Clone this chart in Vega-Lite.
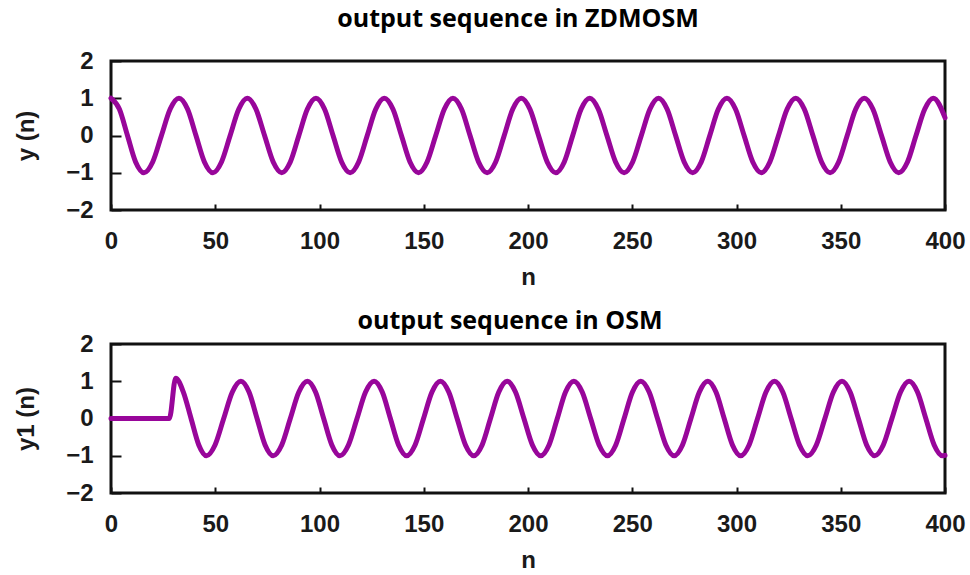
{
  "$schema": "https://vega.github.io/schema/vega-lite/v6.json",
  "background": "white",
  "padding": {"left": 13, "top": 5, "right": 20, "bottom": 2},
  "spacing": 16,
  "datasets": {
    "zdmosm": [
      {"n": 0, "y": 1}, {"n": 4.0, "y": 0.71}, {"n": 7.9, "y": 0}, {"n": 11.8, "y": -0.71}, {"n": 15.8, "y": -1},
      {"n": 20.0, "y": -0.71}, {"n": 24.2, "y": 0}, {"n": 28.4, "y": 0.71}, {"n": 32.6, "y": 1},
      {"n": 36.7, "y": 0.71}, {"n": 40.75, "y": 0}, {"n": 44.8, "y": -0.71}, {"n": 48.9, "y": -1},
      {"n": 53.0, "y": -0.71}, {"n": 57.15, "y": 0}, {"n": 61.3, "y": 0.71}, {"n": 65.4, "y": 1},
      {"n": 69.5, "y": 0.71}, {"n": 73.65, "y": 0}, {"n": 77.8, "y": -0.71}, {"n": 81.9, "y": -1},
      {"n": 86.0, "y": -0.71}, {"n": 90.1, "y": 0}, {"n": 94.2, "y": 0.71}, {"n": 98.3, "y": 1},
      {"n": 102.4, "y": 0.71}, {"n": 106.5, "y": 0}, {"n": 110.6, "y": -0.71}, {"n": 114.7, "y": -1},
      {"n": 118.8, "y": -0.71}, {"n": 122.9, "y": 0}, {"n": 127.0, "y": 0.71}, {"n": 131.1, "y": 1},
      {"n": 135.2, "y": 0.71}, {"n": 139.3, "y": 0}, {"n": 143.4, "y": -0.71}, {"n": 147.5, "y": -1},
      {"n": 151.6, "y": -0.71}, {"n": 155.75, "y": 0}, {"n": 159.9, "y": 0.71}, {"n": 164.0, "y": 1},
      {"n": 168.1, "y": 0.71}, {"n": 172.2, "y": 0}, {"n": 176.3, "y": -0.71}, {"n": 180.4, "y": -1},
      {"n": 184.5, "y": -0.71}, {"n": 188.6, "y": 0}, {"n": 192.7, "y": 0.71}, {"n": 196.8, "y": 1},
      {"n": 200.9, "y": 0.71}, {"n": 205.05, "y": 0}, {"n": 209.2, "y": -0.71}, {"n": 213.3, "y": -1},
      {"n": 217.4, "y": -0.71}, {"n": 221.45, "y": 0}, {"n": 225.5, "y": 0.71}, {"n": 229.6, "y": 1},
      {"n": 233.7, "y": 0.71}, {"n": 237.85, "y": 0}, {"n": 242.0, "y": -0.71}, {"n": 246.1, "y": -1},
      {"n": 250.2, "y": -0.71}, {"n": 254.35, "y": 0}, {"n": 258.5, "y": 0.71}, {"n": 262.6, "y": 1},
      {"n": 266.7, "y": 0.71}, {"n": 270.8, "y": 0}, {"n": 274.9, "y": -0.71}, {"n": 279.0, "y": -1},
      {"n": 283.1, "y": -0.71}, {"n": 287.2, "y": 0}, {"n": 291.3, "y": 0.71}, {"n": 295.4, "y": 1},
      {"n": 299.5, "y": 0.71}, {"n": 303.65, "y": 0}, {"n": 307.8, "y": -0.71}, {"n": 311.9, "y": -1},
      {"n": 316.0, "y": -0.71}, {"n": 320.15, "y": 0}, {"n": 324.3, "y": 0.71}, {"n": 328.4, "y": 1},
      {"n": 332.5, "y": 0.71}, {"n": 336.65, "y": 0}, {"n": 340.8, "y": -0.71}, {"n": 344.9, "y": -1},
      {"n": 349.0, "y": -0.71}, {"n": 353.1, "y": 0}, {"n": 357.2, "y": 0.71}, {"n": 361.3, "y": 1},
      {"n": 365.4, "y": 0.71}, {"n": 369.55, "y": 0}, {"n": 373.7, "y": -0.71}, {"n": 377.8, "y": -1},
      {"n": 382.0, "y": -0.71}, {"n": 386.1, "y": 0}, {"n": 390.3, "y": 0.71}, {"n": 394.4, "y": 1},
      {"n": 400, "y": 0.48}
    ],
    "osm": [
      {"n": 0, "y": 0}, {"n": 28, "y": 0}, {"n": 31, "y": 1.08},
      {"n": 34.7, "y": 0.71}, {"n": 38.4, "y": 0}, {"n": 42.1, "y": -0.71}, {"n": 45.8, "y": -1},
      {"n": 49.9, "y": -0.71}, {"n": 54.05, "y": 0}, {"n": 58.2, "y": 0.71}, {"n": 62.3, "y": 1},
      {"n": 66.2, "y": 0.71}, {"n": 70.05, "y": 0}, {"n": 73.9, "y": -0.71}, {"n": 77.8, "y": -1},
      {"n": 81.9, "y": -0.71}, {"n": 86.0, "y": 0}, {"n": 90.1, "y": 0.71}, {"n": 94.2, "y": 1},
      {"n": 98.1, "y": 0.71}, {"n": 102.0, "y": 0}, {"n": 105.9, "y": -0.71}, {"n": 109.8, "y": -1},
      {"n": 113.9, "y": -0.71}, {"n": 118.0, "y": 0}, {"n": 122.1, "y": 0.71}, {"n": 126.2, "y": 1},
      {"n": 130.1, "y": 0.71}, {"n": 134.0, "y": 0}, {"n": 137.9, "y": -0.71}, {"n": 141.8, "y": -1},
      {"n": 145.85, "y": -0.71}, {"n": 149.9, "y": 0}, {"n": 153.95, "y": 0.71}, {"n": 158.0, "y": 1},
      {"n": 162.0, "y": 0.71}, {"n": 166.0, "y": 0}, {"n": 170.0, "y": -0.71}, {"n": 174.0, "y": -1},
      {"n": 178.0, "y": -0.71}, {"n": 182.0, "y": 0}, {"n": 186.0, "y": 0.71}, {"n": 190.0, "y": 1},
      {"n": 194.0, "y": 0.71}, {"n": 198.05, "y": 0}, {"n": 202.1, "y": -0.71}, {"n": 206.1, "y": -1},
      {"n": 210.1, "y": -0.71}, {"n": 214.05, "y": 0}, {"n": 218.0, "y": 0.71}, {"n": 222.0, "y": 1},
      {"n": 226.0, "y": 0.71}, {"n": 230.05, "y": 0}, {"n": 234.1, "y": -0.71}, {"n": 238.1, "y": -1},
      {"n": 242.1, "y": -0.71}, {"n": 246.1, "y": 0}, {"n": 250.1, "y": 0.71}, {"n": 254.1, "y": 1},
      {"n": 258.1, "y": 0.71}, {"n": 262.1, "y": 0}, {"n": 266.1, "y": -0.71}, {"n": 270.1, "y": -1},
      {"n": 274.1, "y": -0.71}, {"n": 278.15, "y": 0}, {"n": 282.2, "y": 0.71}, {"n": 286.2, "y": 1},
      {"n": 290.15, "y": 0.71}, {"n": 294.1, "y": 0}, {"n": 298.05, "y": -0.71}, {"n": 302.0, "y": -1},
      {"n": 306.05, "y": -0.71}, {"n": 310.1, "y": 0}, {"n": 314.15, "y": 0.71}, {"n": 318.2, "y": 1},
      {"n": 322.2, "y": 0.71}, {"n": 326.2, "y": 0}, {"n": 330.2, "y": -0.71}, {"n": 334.2, "y": -1},
      {"n": 338.3, "y": -0.71}, {"n": 342.4, "y": 0}, {"n": 346.5, "y": 0.71}, {"n": 350.6, "y": 1},
      {"n": 354.5, "y": 0.71}, {"n": 358.45, "y": 0}, {"n": 362.4, "y": -0.71}, {"n": 366.3, "y": -1},
      {"n": 370.4, "y": -0.71}, {"n": 374.55, "y": 0}, {"n": 378.7, "y": 0.71}, {"n": 382.8, "y": 1},
      {"n": 386.8, "y": 0.71}, {"n": 390.8, "y": 0}, {"n": 394.8, "y": -0.71}, {"n": 398.8, "y": -1},
      {"n": 400, "y": -0.99}
    ]
  },
  "config": {
    "view": {"stroke": "#111111", "strokeWidth": 3},
    "axis": {
      "domain": false,
      "grid": false,
      "ticks": true,
      "tickColor": "#111111",
      "tickWidth": 2,
      "labelFont": "Liberation Sans",
      "labelFontWeight": "bold",
      "labelFontSize": 24,
      "labelColor": "#1a1a1a",
      "titleFont": "Liberation Sans",
      "titleFontWeight": "bold",
      "titleFontSize": 24,
      "titleColor": "#1a1a1a"
    },
    "title": {
      "font": "Open Sans",
      "fontWeight": "bold",
      "fontSize": 25,
      "color": "#000000",
      "anchor": "middle"
    }
  },
  "vconcat": [
    {
      "title": {"text": "output sequence in ZDMOSM", "offset": 17, "dx": -10},
      "width": 834,
      "height": 149,
      "data": {"name": "zdmosm"},
      "mark": {"type": "line", "color": "#98069a", "strokeWidth": 5, "interpolate": "monotone", "strokeCap": "round", "strokeJoin": "round"},
      "encoding": {
        "x": {"field": "n", "type": "quantitative", "scale": {"domain": [0, 400], "nice": false, "zero": false},
              "axis": {"title": "n", "values": [0, 50, 100, 150, 200, 250, 300, 350, 400], "tickSize": -6, "labelPadding": 25, "titlePadding": 12, "labelFlush": false}},
        "y": {"field": "y", "type": "quantitative", "scale": {"domain": [-2, 2], "nice": false},
              "axis": {"title": "y (n)", "values": [-2, -1, 0, 1, 2], "tickSize": -10, "labelPadding": 28, "titlePadding": 27, "format": "d", "labelFlush": false}}
      }
    },
    {
      "title": {"text": "output sequence in OSM", "offset": -2, "dx": -18},
      "width": 834,
      "height": 149,
      "data": {"name": "osm"},
      "mark": {"type": "line", "color": "#98069a", "strokeWidth": 5, "interpolate": "monotone", "strokeCap": "round", "strokeJoin": "round"},
      "encoding": {
        "x": {"field": "n", "type": "quantitative", "scale": {"domain": [0, 400], "nice": false, "zero": false},
              "axis": {"title": "n", "values": [0, 50, 100, 150, 200, 250, 300, 350, 400], "tickSize": -6, "labelPadding": 25, "titlePadding": 12, "labelFlush": false}},
        "y": {"field": "y", "type": "quantitative", "scale": {"domain": [-2, 2], "nice": false},
              "axis": {"title": "y1 (n)", "values": [-2, -1, 0, 1, 2], "tickSize": -10, "labelPadding": 28, "titlePadding": 27, "format": "d", "labelFlush": false}}
      }
    }
  ]
}
